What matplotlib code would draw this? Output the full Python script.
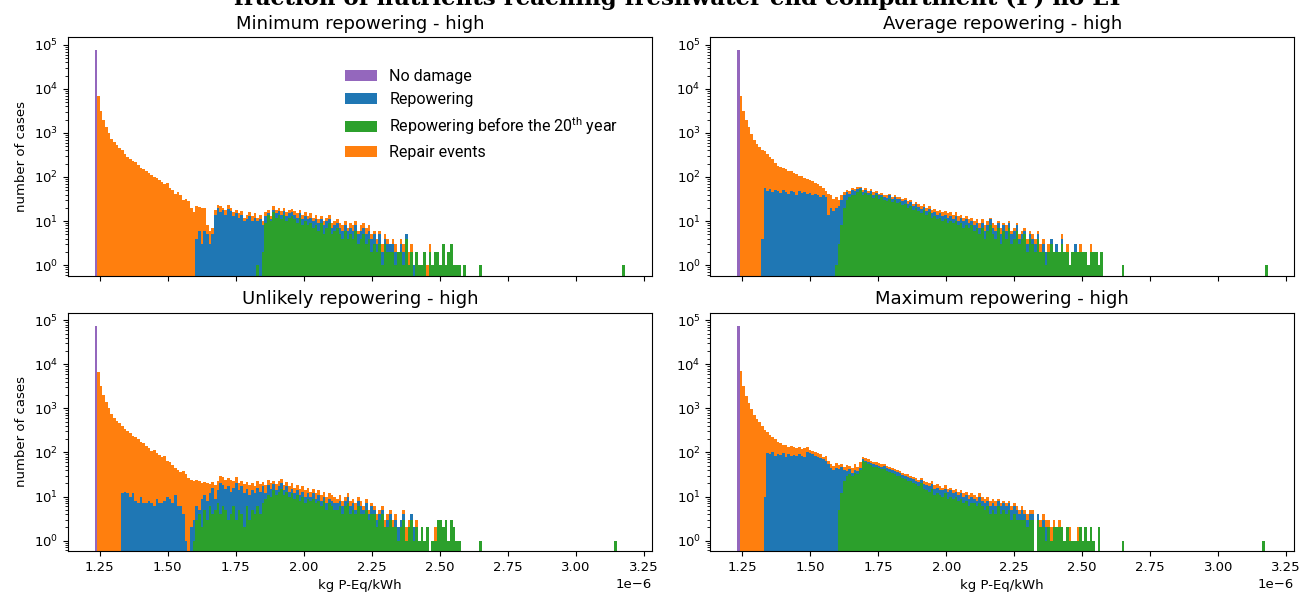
import numpy as np
import matplotlib
matplotlib.use("Agg")
import matplotlib.pyplot as plt

# histogram binning (x in units of 1e-6 kg P-Eq/kWh)
BIN_START = 1.231
BIN_WIDTH = 0.00975
N_BINS = 200

NO_DAMAGE = 76000  # all "no damage" cases fall in the first bin

# counts per bin (bins 0..139)
# *_all: cases with repair events (total), *_repow: repowered cases,
# *_before20: repowered before the 20th year (nested categories)
min_all = [0,
    6900, 3200, 1950, 1350, 980, 730, 620, 520, 460, 400,
    330, 290, 260, 230, 220, 190, 160, 150, 135, 120,
    110, 100, 95, 85, 78, 70, 72, 55, 50, 42,
    45, 40, 30, 32, 28, 20, 16, 22, 21, 20,
    20, 8, 6, 7, 18, 23, 22, 20, 18, 23,
    20, 16, 18, 15, 17, 12, 14, 16, 13, 15,
    12, 14, 10, 16, 18, 13, 22, 18, 20, 17,
    20, 16, 18, 19, 17, 15, 18, 14, 16, 13,
    15, 12, 14, 11, 13, 10, 12, 14, 9, 10,
    11, 9, 8, 10, 7, 9, 8, 10, 6, 8,
    9, 7, 8, 5, 6, 4, 6, 3, 5, 4,
    3, 4, 3, 2, 4, 3, 5, 2, 3, 1,
    2, 1, 1, 2, 1, 3, 1, 2, 2, 1,
    3, 1, 2, 3, 1, 1, 1, 0, 1]
min_repow = [0] * 38 + [
    4, 6, 3,
    6, 5, 3, 5, 14, 20, 16, 18, 14, 19,
    17, 13, 15, 12, 14, 10, 11, 13, 10, 12,
    10, 11, 8, 13, 15, 11, 18, 15, 17, 14,
    17, 13, 15, 16, 14, 12, 15, 11, 13, 11,
    12, 10, 11, 9, 11, 8, 10, 11, 7, 8,
    9, 7, 6, 8, 6, 7, 6, 8, 5, 6,
    7, 5, 6, 4, 5, 3, 5, 2, 4, 3,
    3, 3, 2, 2, 3, 2, 5, 1, 2, 1,
    2, 1, 1, 2, 0, 2, 1, 2, 2, 1,
    3, 1, 2, 3, 1, 1, 1, 0, 1]
min_before20 = [0] * 61 + [
    1, 0, 2, 9, 14, 10, 16, 12, 14, 11,
    14, 10, 12, 13, 11, 9, 12, 8, 10, 8,
    9, 7, 8, 6, 9, 5, 7, 9, 5, 6,
    7, 5, 4, 6, 4, 5, 4, 6, 3, 4,
    5, 3, 4, 2, 3, 2, 3, 1, 3, 2,
    2, 2, 1, 2, 2, 1, 4, 1, 2, 0,
    2, 1, 1, 2, 0, 2, 1, 2, 2, 1,
    3, 1, 2, 3, 1, 1, 1, 0, 1]
min_outliers = [2.648, 3.175]  # single early-repowering cases

avg_all = [0,
    6900, 3200, 1950, 1350, 950, 700, 560, 480, 420, 380,
    330, 290, 250, 210, 180, 165, 160, 150, 140, 135,
    125, 118, 105, 108, 95, 90, 85, 80, 72, 68,
    62, 55, 48, 42, 38, 32, 35, 30, 38, 45,
    50, 48, 55, 52, 58, 60, 50, 55, 48, 52,
    45, 48, 42, 44, 40, 38, 42, 36, 40, 35,
    36, 32, 34, 28, 30, 25, 27, 24, 22, 24,
    20, 22, 18, 19, 17, 18, 16, 17, 15, 16,
    14, 16, 13, 14, 12, 13, 11, 12, 10, 11,
    9, 11, 8, 10, 12, 9, 8, 10, 7, 9,
    8, 10, 6, 7, 9, 5, 6, 7, 4, 6,
    5, 4, 6, 3, 4, 2, 3, 4, 2, 3,
    2, 5, 2, 3, 1, 2, 3, 2, 3, 2,
    2, 1, 3, 2, 2, 1, 2, 0, 0]
avg_repow = [0] * 9 + [
    4, 55,
    48, 52, 45, 50, 47, 44, 50, 46, 42, 48,
    45, 40, 47, 43, 46, 41, 44, 38, 42, 40,
    36, 40, 35, 14, 20, 17, 20, 22, 30, 40,
    45, 42, 50, 48, 52, 55, 46, 50, 44, 48,
    40, 44, 38, 40, 36, 34, 38, 32, 36, 31,
    32, 28, 30, 25, 27, 22, 24, 21, 19, 21,
    17, 19, 15, 16, 14, 15, 13, 14, 12, 13,
    11, 13, 10, 12, 10, 11, 9, 10, 8, 9,
    7, 9, 6, 8, 11, 7, 6, 9, 5, 8,
    6, 9, 5, 6, 8, 4, 5, 6, 3, 5,
    4, 3, 5, 2, 3, 2, 2, 4, 2, 3,
    2, 4, 2, 2, 1, 2, 3, 2, 2, 2,
    2, 1, 2, 2, 2, 1, 2, 0, 0]
avg_before20 = [0] * 37 + [
    1, 3, 8, 20,
    30, 35, 40, 38, 45, 50, 40, 44, 38, 42,
    34, 38, 32, 35, 30, 28, 32, 27, 30, 26,
    27, 23, 25, 20, 22, 18, 20, 17, 15, 18,
    14, 16, 12, 13, 11, 12, 10, 11, 9, 10,
    9, 10, 8, 9, 7, 8, 7, 8, 6, 7,
    5, 7, 4, 6, 8, 5, 4, 7, 3, 6,
    4, 7, 3, 4, 6, 3, 4, 5, 2, 4,
    3, 2, 4, 2, 2, 1, 2, 3, 2, 2,
    2, 3, 2, 2, 1, 2, 2, 2, 2, 2,
    2, 1, 2, 2, 2, 1, 2, 0, 0]
avg_outliers = [2.648, 3.175]

unl_all = [0,
    6800, 3300, 2000, 1400, 1000, 750, 600, 520, 460, 400,
    340, 300, 270, 240, 220, 200, 175, 160, 140, 125,
    110, 115, 95, 88, 80, 85, 65, 60, 52, 45,
    40, 36, 38, 33, 26, 24, 22, 24, 22, 20,
    21, 20, 19, 21, 18, 22, 30, 28, 24, 26,
    24, 22, 28, 20, 23, 19, 21, 18, 20, 17,
    22, 19, 21, 18, 24, 20, 23, 19, 22, 25,
    18, 21, 17, 20, 16, 18, 15, 17, 14, 16,
    13, 15, 12, 14, 11, 13, 10, 12, 11, 10,
    9, 11, 8, 10, 12, 8, 9, 7, 10, 8,
    6, 9, 5, 7, 6, 4, 5, 6, 3, 4,
    5, 3, 4, 2, 3, 5, 2, 3, 4, 2,
    3, 1, 2, 1, 2, 0, 1, 2, 3, 3,
    2, 3, 1, 3, 2, 1, 1, 0, 0]
unl_repow = [0] * 10 + [
    12,
    13, 12, 10, 12, 8, 7, 10, 7, 7, 8,
    7, 6, 9, 7, 7, 8, 10, 9, 7, 11,
    6, 6, 4, 1, 0, 2, 3, 6, 5, 9,
    11, 8, 12, 16, 9, 14, 20, 18, 15, 17,
    13, 16, 20, 14, 17, 12, 15, 11, 14, 12,
    16, 13, 17, 12, 18, 15, 19, 14, 17, 20,
    14, 17, 13, 15, 12, 14, 11, 13, 10, 12,
    10, 12, 9, 11, 8, 10, 7, 9, 8, 7,
    7, 8, 6, 8, 10, 6, 7, 5, 8, 6,
    5, 7, 4, 6, 5, 3, 4, 5, 2, 3,
    4, 2, 3, 2, 3, 4, 1, 2, 4, 2,
    2, 1, 2, 1, 2, 0, 1, 1, 3, 3,
    2, 3, 1, 3, 2, 1, 1, 0, 0]
unl_before20 = [0] * 37 + [
    1, 3, 4, 2,
    5, 3, 6, 4, 5, 7, 4, 6, 5, 3,
    4, 6, 3, 5, 4, 2, 6, 3, 5, 4,
    6, 4, 7, 9, 11, 10, 14, 11, 13, 15,
    11, 13, 10, 12, 9, 11, 8, 10, 7, 9,
    8, 9, 7, 8, 6, 8, 5, 7, 6, 5,
    5, 6, 4, 6, 7, 4, 5, 4, 6, 4,
    4, 5, 3, 4, 4, 2, 3, 4, 2, 2,
    3, 2, 2, 1, 2, 3, 1, 2, 3, 1,
    2, 1, 2, 1, 2, 0, 1, 1, 3, 3,
    2, 3, 1, 3, 2, 1, 1, 0, 0]
unl_outliers = [2.648, 3.150]

max_all = [0,
    6900, 3300, 1950, 1350, 950, 700, 560, 480, 400, 330,
    290, 250, 230, 200, 175, 160, 150, 145, 135, 140,
    130, 125, 135, 120, 125, 130, 115, 110, 100, 95,
    90, 80, 85, 65, 55, 50, 58, 52, 55, 48,
    52, 50, 45, 55, 48, 60, 80, 75, 70, 65,
    62, 60, 58, 55, 56, 50, 48, 45, 42, 40,
    38, 35, 33, 32, 30, 28, 26, 24, 27, 22,
    21, 20, 22, 18, 19, 17, 16, 18, 15, 16,
    14, 15, 13, 14, 12, 13, 11, 12, 11, 10,
    12, 10, 9, 10, 8, 9, 8, 9, 7, 8,
    7, 8, 6, 7, 6, 5, 6, 5, 4, 5,
    5, 0, 4, 3, 4, 3, 3, 2, 3, 2,
    3, 2, 1, 2, 2, 1, 1, 2, 2, 1,
    2, 1, 2, 1, 0, 2, 0, 0, 0]
max_repow = [0] * 10 + [
    10,
    95, 90, 100, 85, 92, 88, 95, 80, 90, 85,
    88, 82, 92, 85, 80, 100, 95, 90, 85, 80,
    75, 70, 65, 55, 45, 40, 45, 42, 48, 40,
    38, 42, 35, 40, 38, 45, 70, 65, 60, 58,
    55, 52, 50, 48, 50, 45, 43, 40, 38, 36,
    34, 31, 30, 28, 27, 25, 23, 21, 24, 19,
    18, 17, 19, 15, 16, 14, 14, 15, 13, 14,
    12, 13, 11, 12, 10, 11, 9, 10, 9, 8,
    10, 8, 7, 8, 6, 7, 6, 8, 6, 7,
    6, 7, 5, 6, 5, 4, 5, 4, 3, 4,
    4, 0, 4, 2, 3, 2, 2, 1, 2, 2,
    2, 2, 1, 2, 1, 1, 1, 1, 2, 1,
    2, 1, 2, 1, 0, 2, 0, 0, 0]
max_before20 = [0] * 38 + [
    5, 12, 22,
    30, 32, 30, 35, 33, 40, 65, 60, 55, 52,
    48, 46, 44, 42, 43, 38, 36, 34, 32, 30,
    29, 26, 25, 23, 22, 20, 19, 17, 20, 15,
    14, 13, 15, 11, 12, 11, 10, 12, 9, 10,
    9, 10, 8, 9, 7, 8, 6, 7, 7, 6,
    7, 6, 5, 6, 4, 5, 4, 6, 4, 5,
    4, 5, 3, 4, 3, 3, 3, 3, 2, 3,
    3, 0, 3, 2, 2, 1, 2, 1, 2, 2,
    2, 2, 1, 2, 1, 1, 1, 1, 2, 1,
    2, 1, 2, 1, 0, 2, 0, 0, 0]
max_outliers = [2.648, 3.162]

titles = ["Minimum repowering - high", "Average repowering - high",
          "Unlikely repowering - high", "Maximum repowering - high"]
panels = [
    (min_all, min_repow, min_before20, min_outliers),
    (avg_all, avg_repow, avg_before20, avg_outliers),
    (unl_all, unl_repow, unl_before20, unl_outliers),
    (max_all, max_repow, max_before20, max_outliers),
]

C_NODMG = "#9467bd"
C_REPOW = "#1f77b4"
C_EARLY = "#2ca02c"
C_REPAIR = "#ff7f0e"


def full_counts(vals, outliers):
    arr = np.zeros(N_BINS)
    arr[:len(vals)] = vals
    for v in outliers:
        arr[int((v - BIN_START) / BIN_WIDTH)] += 1
    return arr


def draw_panel(ax, title, all_cases, repow, before20, outliers):
    left = (BIN_START + BIN_WIDTH * np.arange(N_BINS)) * 1e-6
    w = BIN_WIDTH * 1e-6
    ax.set_yscale("log", nonpositive="clip")
    h_rep = ax.bar(left, full_counts(all_cases, outliers), width=w, align="edge",
                   color=C_REPAIR, linewidth=0, label="Repair events")
    h_pow = ax.bar(left, full_counts(repow, outliers), width=w, align="edge",
                   color=C_REPOW, linewidth=0, label="Repowering")
    h_early = ax.bar(left, full_counts(before20, outliers), width=w, align="edge",
                     color=C_EARLY, linewidth=0,
                     label="Repowering before the 20$^{\\mathdefault{th}}$ year")
    nd = np.zeros(N_BINS)
    nd[0] = NO_DAMAGE
    h_nd = ax.bar(left, nd, width=w, align="edge", color=C_NODMG, linewidth=0,
                  label="No damage")
    ax.set_ylim(0.58, 1.5e5)
    ax.set_xlim(1.1335e-6, 3.2785e-6)
    ax.set_title(title, fontsize=13)
    ax.tick_params(labelsize=9.5)
    ax.xaxis.get_offset_text().set_fontsize(9.5)
    return [h_nd, h_pow, h_early, h_rep]


fig, axes = plt.subplots(2, 2, sharex=True, figsize=(13.05, 5.99), dpi=100)
fig.subplots_adjust(left=0.0521, right=0.9916, top=0.9382, bottom=0.0801,
                    wspace=0.101, hspace=0.155)

for ax, title, data in zip(axes.flat, titles, panels):
    handles = draw_panel(ax, title, *data)
    if ax is axes[0, 0]:
        ax.legend(handles=handles, loc="upper left", bbox_to_anchor=(0.463, 0.892),
                  borderaxespad=0, frameon=False,
                  prop={"family": "Roboto", "size": 11.5})

for ax in axes[:, 0]:
    ax.set_ylabel("number of cases", fontsize=9.5)
for ax in axes[1, :]:
    ax.set_xlabel("kg P-Eq/kWh", fontsize=9.5)

# the figure title sits mostly above the top edge, as in the original export
fig.text(0.52, 1 - 5 / 599, "fraction of nutrients reaching freshwater end compartment (P) no LT",
         ha="center", va="baseline", fontsize=16.5, fontweight="bold", family="DejaVu Serif")

fig.savefig("out.png", dpi=100)
